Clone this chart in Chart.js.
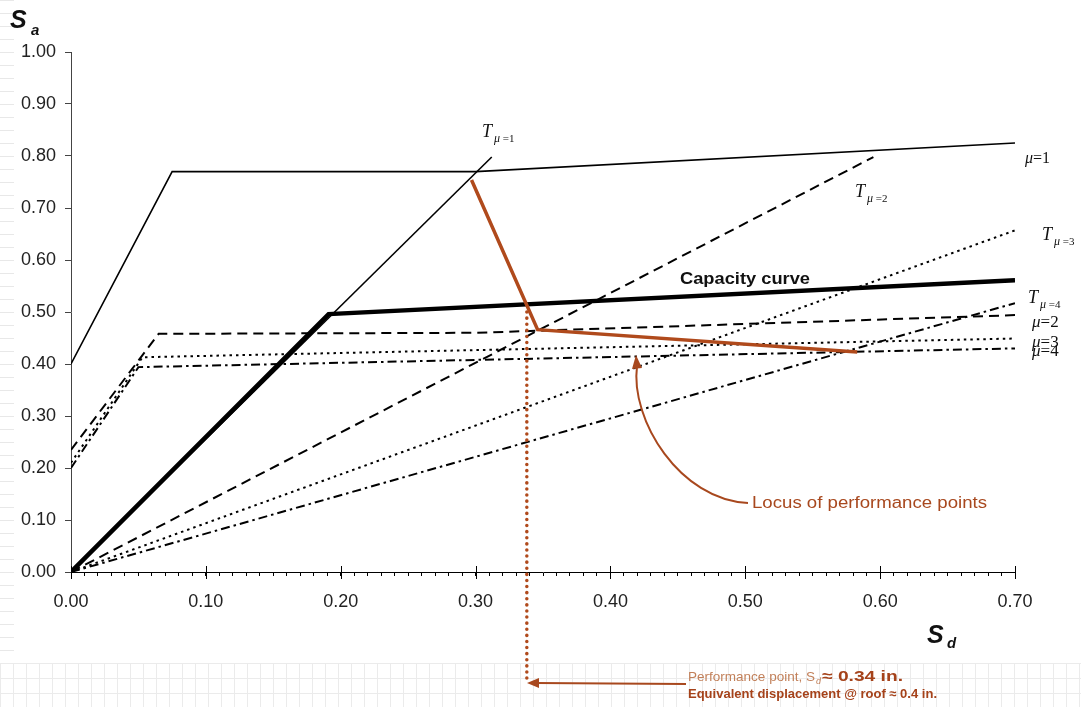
<!DOCTYPE html>
<html>
<head>
<meta charset="utf-8">
<script src="https://cdn.jsdelivr.net/npm/chart.js@4/dist/chart.umd.min.js"></script>
<style>
  html, body { margin:0; padding:0; background:#fff; }
  #wrap { position:relative; width:1081px; height:707px; overflow:hidden; background:#fff; }
  #band { position:absolute; left:0; top:663px; width:1081px; height:44px;
    background-image: linear-gradient(to right, #ebebeb 1px, transparent 1px), linear-gradient(to bottom, #ebebeb 1px, transparent 1px);
    background-size: 13px 15px; }
  #strip { position:absolute; left:0; top:0; width:14px; height:663px;
    background-image: linear-gradient(to bottom, #e8e8e8 1px, transparent 1px);
    background-size: 14px 13px; }
  canvas { position:absolute; left:0; top:0; }
  svg { position:absolute; left:0; top:0; pointer-events:none; }
</style>
</head>
<body>
<div id="wrap">
  <div id="band"></div>
  <div id="strip"></div>
  <canvas id="c" width="1081" height="707"></canvas>
  <svg width="1081" height="707" xmlns="http://www.w3.org/2000/svg">
    <g font-family="'Liberation Serif','Times New Roman',serif" fill="#111">
      <text x="482" y="137" font-size="18" font-style="italic">T<tspan x="494" y="142" font-size="12">μ</tspan><tspan font-size="11" font-style="normal"> =1</tspan></text>
      <text x="855" y="197" font-size="18" font-style="italic">T<tspan x="867" y="202" font-size="12">μ</tspan><tspan font-size="11" font-style="normal"> =2</tspan></text>
      <text x="1042" y="240" font-size="18" font-style="italic">T<tspan x="1054" y="245" font-size="12">μ</tspan><tspan font-size="11" font-style="normal"> =3</tspan></text>
      <text x="1028" y="303" font-size="18" font-style="italic">T<tspan x="1040" y="308" font-size="12">μ</tspan><tspan font-size="11" font-style="normal"> =4</tspan></text>
      <text x="1025" y="163" font-size="16" font-style="italic">μ<tspan font-style="normal">=1</tspan></text>
      <text x="1032" y="327" font-size="17" font-style="italic">μ<tspan font-style="normal">=2</tspan></text>
      <text x="1032" y="347" font-size="17" font-style="italic">μ<tspan font-style="normal">=3</tspan></text>
      <text x="1032" y="356" font-size="17" font-style="italic">μ<tspan font-style="normal">=4</tspan></text>
    </g>
    <g font-family="'Liberation Sans',Arial,sans-serif">
      <text x="680" y="284" font-size="16" font-weight="bold" fill="#111" textLength="130" lengthAdjust="spacingAndGlyphs">Capacity curve</text>
      <text x="752" y="508" font-size="16" fill="#A8481E" textLength="235" lengthAdjust="spacingAndGlyphs">Locus of performance points</text>
      <text x="10" y="28" font-size="25" font-weight="bold" font-style="italic" fill="#111">S<tspan x="31" y="35" font-size="15">a</tspan></text>
      <text x="927" y="643" font-size="25" font-weight="bold" font-style="italic" fill="#111">S<tspan x="947" y="648" font-size="15">d</tspan></text>
      <text x="688" y="681" font-size="13" fill="#C2805A" textLength="127" lengthAdjust="spacingAndGlyphs">Performance point, S</text>
      <text x="816" y="684" font-size="9" font-style="italic" fill="#C2805A">d</text>
      <text x="822" y="681" font-size="15" font-weight="bold" fill="#A5421A" textLength="81" lengthAdjust="spacingAndGlyphs">≈ 0.34 in.</text>
      <text x="688" y="698" font-size="13" font-weight="bold" fill="#A5421A" textLength="249" lengthAdjust="spacingAndGlyphs">Equivalent displacement @ roof ≈ 0.4 in.</text>
    </g>
    <g stroke="#A8481E" fill="none" stroke-width="2">
      <path d="M748,503 C680,500 630,420 637,366"/>
      <path d="M686,684 L536,683"/>
    </g>
    <g fill="#A8481E">
      <polygon points="636,355 632,369 642,368"/>
      <polygon points="527,683 539,678 539,688"/>
    </g>
  </svg>
</div>
<script>
// ---- Data ----
// Demand spectra (reduced for ductility mu)
const sdMu1 = [0, 0.075, 0.30, 0.70];
const saMu1 = [0.40, 0.77, 0.77, 0.825];
const sdMu2 = [0, 0.065, 0.30, 0.70];
const saMu2 = [0.235, 0.458, 0.46, 0.494];
const sdMu3 = [0, 0.053, 0.70];
const saMu3 = [0.21, 0.413, 0.449];
const sdMu4 = [0, 0.05, 0.70];
const saMu4 = [0.20, 0.394, 0.43];
// Period (radial) lines
const sdT1 = [0, 0.312];  const saT1 = [0, 0.798];
const sdT2 = [0, 0.595];  const saT2 = [0, 0.798];
const sdT3 = [0, 0.70];   const saT3 = [0, 0.657];
const sdT4 = [0, 0.70];   const saT4 = [0, 0.517];
// Capacity curve
const sdCap = [0, 0.191, 0.70];
const saCap = [0, 0.496, 0.561];
// Locus of performance points
const sdLocus = [0.297, 0.346, 0.583];
const saLocus = [0.754, 0.466, 0.423];
// Performance point marker line (extends below the axis to the note)
const sdPerf = [0.338, 0.338];
const saPerf = [0.50, -0.213];
// Axis ticks
const xTickLabels = ['0.00','0.10','0.20','0.30','0.40','0.50','0.60','0.70'];
const yTickLabels = ['0.00','0.10','0.20','0.30','0.40','0.50','0.60','0.70','0.80','0.90','1.00'];

function pts(sd, sa) { return sd.map((x, i) => ({ x: x, y: sa[i] })); }

const BROWN = '#B04A1C';
const DASH = [10, 6];
const DOT = [2.5, 4];
const DASHDOT = [9, 4, 2.5, 4];

function line(label, sd, sa, color, width, dash, extra) {
  return Object.assign({
    label: label, data: pts(sd, sa), showLine: true, borderColor: color,
    borderWidth: width, borderDash: dash || [], pointRadius: 0, fill: false,
    tension: 0
  }, extra || {});
}

const datasets = [
  line('Performance point', sdPerf, saPerf, BROWN, 3.5, [0.1, 6], { clip: false, borderCapStyle: 'round' }),
  line('Locus of performance points', sdLocus, saLocus, BROWN, 3.5),
  line('Capacity curve', sdCap, saCap, '#000', 4.5),
  line('T mu=1', sdT1, saT1, '#000', 1.6),
  line('T mu=2', sdT2, saT2, '#000', 2, DASH),
  line('T mu=3', sdT3, saT3, '#000', 2, DOT),
  line('T mu=4', sdT4, saT4, '#000', 2, DASHDOT),
  line('mu=1', sdMu1, saMu1, '#000', 1.6),
  line('mu=2', sdMu2, saMu2, '#000', 2, DASH),
  line('mu=3', sdMu3, saMu3, '#000', 2, DOT),
  line('mu=4', sdMu4, saMu4, '#000', 2, DASHDOT)
];

const majorTicks = {
  id: 'majorTicks',
  afterDraw(chart) {
    const ctx = chart.ctx, xs = chart.scales.x, b = chart.chartArea.bottom;
    ctx.save();
    ctx.strokeStyle = '#000'; ctx.lineWidth = 1;
    xTickLabels.forEach(l => {
      const px = Math.round(xs.getPixelForValue(parseFloat(l))) + 0.5;
      ctx.beginPath(); ctx.moveTo(px, b - 6); ctx.lineTo(px, b + 7); ctx.stroke();
    });
    ctx.restore();
  }
};

const FONT = { family: "'Liberation Sans', Arial, sans-serif", size: 18 };

new Chart(document.getElementById('c'), {
  type: 'scatter',
  data: { datasets: datasets },
  plugins: [majorTicks],
  options: {
    responsive: false, animation: false,
    layout: { padding: { left: 0, top: 52, right: 66, bottom: 0 } },
    plugins: { legend: { display: false }, tooltip: { enabled: false } },
    scales: {
      x: {
        type: 'linear', min: 0, max: 0.7,
        afterFit(s) { s.height = 135; },
        border: { color: '#000', width: 1 },
        grid: { drawOnChartArea: false, drawTicks: true, tickLength: 4, color: '#000' },
        ticks: {
          stepSize: 0.01, autoSkip: false, maxRotation: 0, minRotation: 0, padding: 15,
          maxTicksLimit: 200, color: '#222', font: FONT,
          callback(v) {
            const k = Math.round(v * 10);
            return Math.abs(v * 10 - k) < 1e-6 ? xTickLabels[k] : '';
          }
        }
      },
      y: {
        type: 'linear', min: 0, max: 1,
        afterFit(s) { s.width = 71; },
        border: { color: '#444', width: 1 },
        grid: { drawOnChartArea: false, drawTicks: true, tickLength: 6, color: '#444' },
        ticks: {
          stepSize: 0.1, padding: 9, color: '#222', font: FONT,
          callback(v) { return yTickLabels[Math.round(v * 10)]; }
        }
      }
    }
  }
});
</script>
</body>
</html>
